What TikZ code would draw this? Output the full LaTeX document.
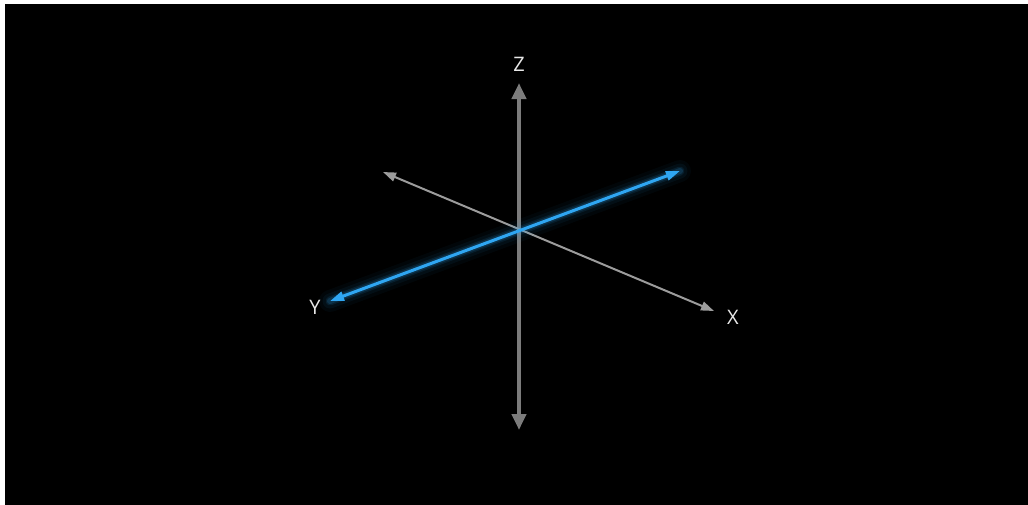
\documentclass[tikz,border=0pt]{standalone}
\usepackage{fontspec}
\setmainfont{Open Sans}
\usetikzlibrary{arrows.meta}
\definecolor{zgrey}{HTML}{7C7C7C}
\definecolor{xgrey}{HTML}{9C9C9C}
\definecolor{yblue}{HTML}{2FA6F2}
\definecolor{lblc}{HTML}{E8E8E8}
\tikzset{
  zaxis/.style = {line width=4pt, draw=zgrey,
                  {Triangle[length=16pt,width=14pt]}-{Triangle[length=16pt,width=14pt]}},
  xaxis/.style = {line width=2pt, draw=xgrey,
                  {Triangle[length=13pt,width=9pt]}-{Triangle[length=13pt,width=9pt]}},
  yaxis/.style = {line width=3pt, draw=yblue,
                  {Triangle[length=14pt,width=9pt]}-{Triangle[length=14pt,width=9pt]}},
  glow/.style  = {draw=yblue, line cap=round, opacity=#1},
  axlbl/.style = {text=lblc, font=\fontsize{20}{24}\selectfont, inner sep=0pt},
}

\begin{document}
\begin{tikzpicture}[x=1pt, y=-1pt]
\useasboundingbox (0,0) rectangle (1028,504);
\fill[white] (-10,-10) rectangle (1040,520);
\fill[black] (5,4) rectangle (1040,520);
% axis end points
\coordinate (ztop) at (519,83);
\coordinate (zbot) at (519,430);
\coordinate (xneg) at (383,172);
\coordinate (xpos) at (714,311);
\coordinate (ypos) at (330,301);
\coordinate (yneg) at (680,171);
% grey axes
\draw[zaxis] (zbot) -- (ztop);
\draw[xaxis] (xneg) -- (xpos);
% blue axis with glow
\draw[glow=0.04, line width=22pt] (ypos) -- (yneg);
\draw[glow=0.06, line width=15pt] (ypos) -- (yneg);
\draw[glow=0.10, line width=9pt] (ypos) -- (yneg);
\draw[glow=0.16, line width=6pt] (ypos) -- (yneg);
\draw[yaxis] (yneg) -- (ypos);
% labels
\node[axlbl] (zl) at (519,64) {Z};
\node[axlbl] (yl) at (315,307) {Y};
\node[axlbl] (xl) at (733,317) {X};
\end{tikzpicture}
\end{document}
